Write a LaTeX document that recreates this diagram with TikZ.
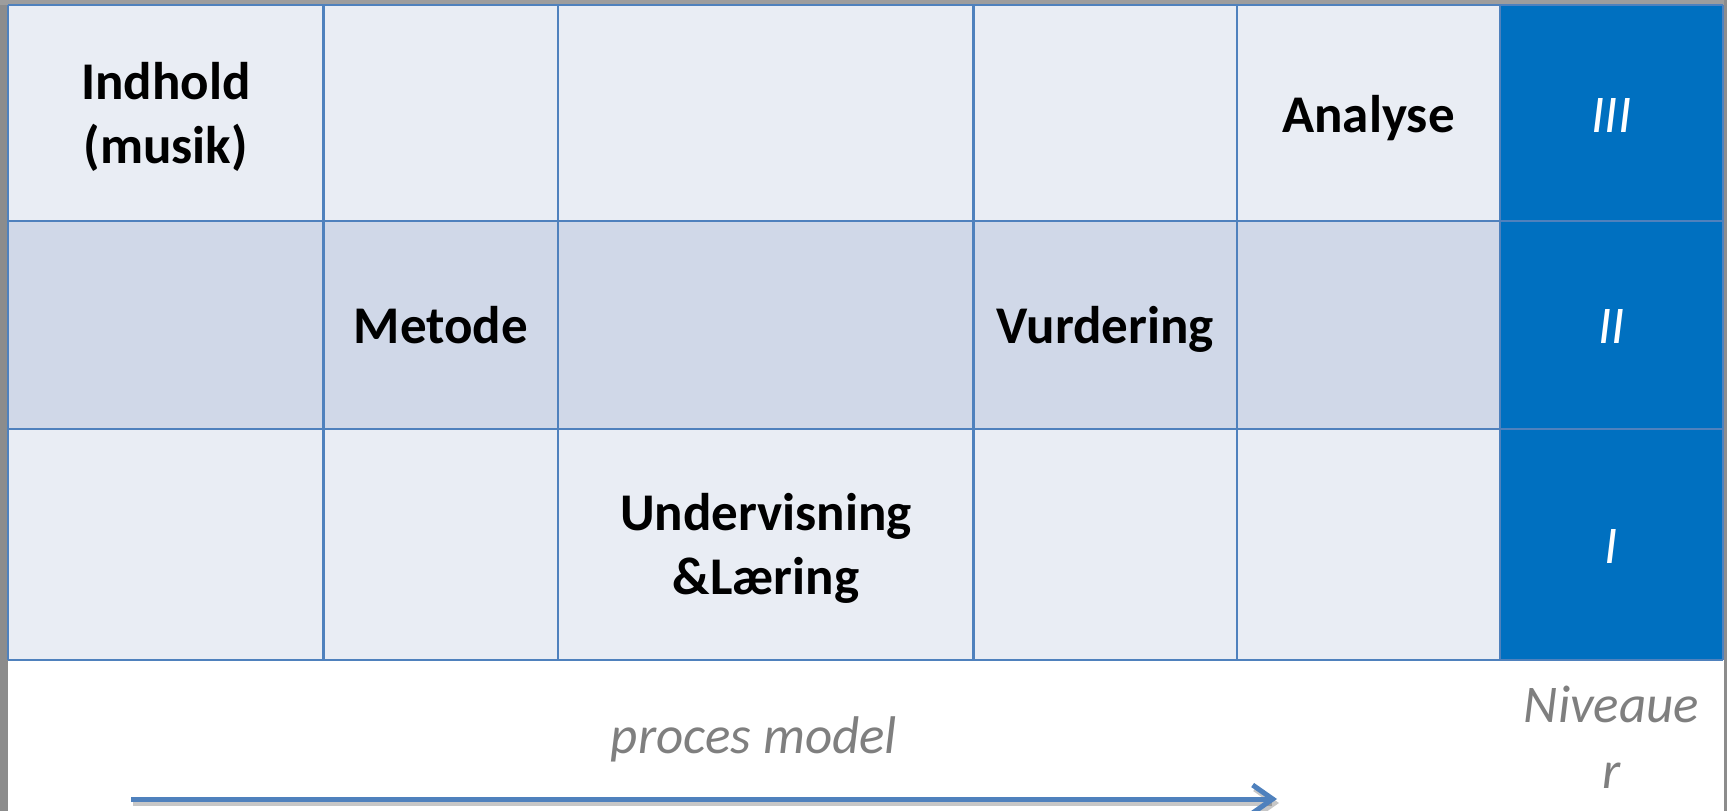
\documentclass[tikz,border=0pt]{standalone}
\usepackage{fontspec}
\setmainfont{Carlito}
\usetikzlibrary{arrows.meta}
\definecolor{lightcell}{HTML}{E9EDF4}
\definecolor{midcell}{HTML}{D0D8E8}
\definecolor{bluecell}{HTML}{0070C0}
\definecolor{gridline}{HTML}{4F81BD}
\definecolor{edgegray}{HTML}{8C8C8C}
\definecolor{labelgray}{HTML}{7F7F7F}
\begin{document}
\begin{tikzpicture}[x=1pt,y=-1pt,
  celltext/.style={font=\fontsize{53}{64}\selectfont\bfseries, text=black, align=center, inner sep=0pt},
  numtext/.style={font=\fontsize{53}{64}\selectfont\itshape, text=white, inner sep=0pt},
  notetext/.style={font=\fontsize{53}{66}\selectfont\itshape, text=labelgray, align=center, inner sep=0pt},
  gridrule/.style={draw=gridline, line width=2.5pt},
  arrowline/.style={line width=5pt, -{Straight Barb[length=20pt,width=28pt]}}]
\useasboundingbox (0,0) rectangle (1727,811);
\fill[white] (0,0) rectangle (1727,811);
\fill[edgegray] (0,0) rectangle (7.5,811);
\fill[edgegray!85] (0,0) rectangle (1727,4.5);
\fill[edgegray] (1724,0) rectangle (1727,811);
% cells
\fill[lightcell] (8,5) rectangle (1500,221);
\fill[midcell] (8,221) rectangle (1500,429);
\fill[lightcell] (8,429) rectangle (1500,660);
\fill[bluecell] (1500,5) rectangle (1723,660);
% grid
\foreach \x in {8,323.5,558,973.5,1237,1500,1723} \draw[gridrule] (\x,5) -- (\x,660);
\foreach \y in {5,221,429,660} \draw[gridrule] (8,\y) -- (1723,\y);
% texts
\node[celltext] (indhold) at (165.75,116.5) {Indhold\\(musik)};
\node[celltext, anchor=base] (metode) at (440.75,343) {Metode};
\node[celltext] (undervisning) at (766,548.5) {Undervisning\\\&Læring};
\node[celltext, anchor=base] (vurdering) at (1105.25,343) {Vurdering};
\node[celltext, anchor=base] (analyse) at (1368.5,132) {Analyse};
\node[numtext, anchor=base] (n3) at (1611.5,132) {III};
\node[numtext, anchor=base] (n2) at (1611.5,343) {II};
\node[numtext, anchor=base] (n1) at (1611.5,563) {I};
\node[notetext, anchor=base] (proces) at (754,753) {proces model};
\node[notetext] (niveauer) at (1611.5,737) {Niveaue\\r};
% arrow
\coordinate (arrowstart) at (131,799);
\coordinate (arrowend) at (1277,799);
\draw[arrowline, black, opacity=0.22] ([shift={(2,4)}]arrowstart) -- ([shift={(2,4)}]arrowend);
\draw[arrowline, gridline] (arrowstart) -- (arrowend);
\end{tikzpicture}
\end{document}
